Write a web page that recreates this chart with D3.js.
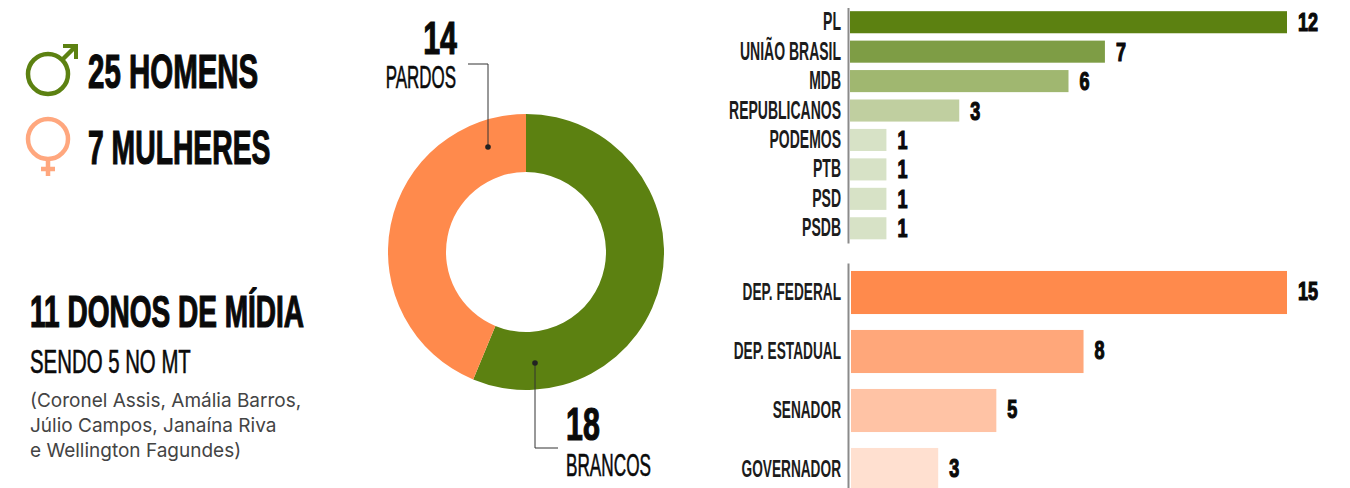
<!DOCTYPE html>
<html lang="en">
<head>
    <meta charset="UTF-8">
    <title>Perfil dos candidatos</title>
    <script src="https://d3js.org/d3.v7.min.js"></script>
    <style>
        body { margin: 0; padding: 0; background: #fff; }
        svg { display: block; }
        text { font-family: "Liberation Sans Narrow", "Liberation Sans", sans-serif; fill: #0a0a0a; }
        .heavy { font-weight: bold; stroke: #0a0a0a; stroke-width: 1.2px; }
        .medium { stroke: #0a0a0a; stroke-width: 0.6px; }
        .label { font-weight: bold; fill: #1c1c1c; }
        .note { font-family: Inter, Roboto, sans-serif; font-size: 19px; fill: #444; }
        .axis path { stroke: #8a8a8a; stroke-width: 2px; }
    </style>
</head>
<body>
<div id="canvasContainer"></div>
<script>

    const genderLabels = ["25 HOMENS", "7 MULHERES"];
    const mediaTitle = "11 DONOS DE MÍDIA";
    const mediaSubtitle = "SENDO 5 NO MT";
    const mediaNames = ["(Coronel Assis, Amália Barros,", "Júlio Campos, Janaína Riva", "e Wellington Fagundes)"];

    const raceNames = ["BRANCOS", "PARDOS"];
    const raceValues = [18, 14];

    const parties = ["PL", "UNIÃO BRASIL", "MDB", "REPUBLICANOS", "PODEMOS", "PTB", "PSD", "PSDB"];
    const partyValues = [12, 7, 6, 3, 1, 1, 1, 1];

    const offices = ["DEP. FEDERAL", "DEP. ESTADUAL", "SENADOR", "GOVERNADOR"];
    const officeValues = [15, 8, 5, 3];

    const green = "#5c8111";
    const orange = "#ff8a4c";
    const partyColors = ["#5c8111", "#7e9d45", "#a0b770", "#c0cfa0", "#d7e2c6", "#d7e2c6", "#d7e2c6", "#d7e2c6"];
    const officeColors = ["#ff8a4c", "#ffa77a", "#ffc3a5", "#ffe0d0"];

    const svg = d3.select("#canvasContainer")
        .append("svg")
        .attr("width", 1350)
        .attr("height", 488);

    // condensed display text, no such font installed so squeeze it
    function label(x, y, str, size, sx, anchor, cls) {
        return svg.append("text")
            .attr("class", cls)
            .attr("transform", `translate(${x},${y}) scale(${sx},1)`)
            .attr("text-anchor", anchor)
            .style("font-size", size + "px")
            .text(str);
    }

    // gender icons
    const male = svg.append("g").attr("fill", "none").attr("stroke", green).attr("stroke-width", 4.5);
    male.append("circle").attr("cx", 48).attr("cy", 74).attr("r", 20);
    male.append("path").attr("d", "M62,60 L75,47");
    male.append("path").attr("d", "M63,46 L76,46 L76,59").attr("stroke-width", 4);

    const female = svg.append("g").attr("fill", "none").attr("stroke", "#ffa77e").attr("stroke-width", 4.5);
    female.append("circle").attr("cx", 48).attr("cy", 139).attr("r", 20);
    female.append("path").attr("d", "M48,159 L48,176 M41,169 L55,169");

    label(88, 88, genderLabels[0], 48, 0.614, "start", "heavy");
    label(88, 164, genderLabels[1], 48, 0.59, "start", "heavy");

    label(30, 327, mediaTitle, 44, 0.637, "start", "heavy");
    label(30, 373, mediaSubtitle, 34, 0.6, "start", "medium");
    mediaNames.forEach((n, i) => {
        svg.append("text").attr("class", "note")
            .attr("x", 30).attr("y", 407 + i * 25).text(n);
    });

    // donut
    const pie = d3.pie().sort(null);
    const arc = d3.arc().innerRadius(80).outerRadius(138);
    svg.append("g")
        .attr("transform", "translate(526,252)")
        .selectAll("path")
        .data(pie(raceValues))
        .enter()
        .append("path")
        .attr("d", arc)
        .attr("fill", (d, i) => i === 0 ? green : orange);

    // leaders
    const leaders = [
        { path: "M468,64 L488,64 L488,147", dot: [488, 147] },
        { path: "M535,363 L535,448 L558,448", dot: [535, 363] }
    ];
    leaders.forEach(l => {
        svg.append("path").attr("d", l.path).attr("fill", "none").attr("stroke", "#333").attr("stroke-width", 1);
        svg.append("circle").attr("cx", l.dot[0]).attr("cy", l.dot[1]).attr("r", 2.8).attr("fill", "#222");
    });

    label(457, 54, raceValues[1], 46, 0.66, "end", "heavy");
    label(456, 88, raceNames[1], 32, 0.53, "end", "medium");
    label(566, 440, raceValues[0], 46, 0.66, "start", "heavy");
    label(566, 476, raceNames[0], 32, 0.537, "start", "medium");

    // bar panels
    function barPanel(cats, vals, colors, opts) {
        const x = d3.scaleLinear().domain([0, opts.max]).range([opts.x0, 1287]);
        const y = d3.scaleBand().domain(cats).range(opts.yRange).paddingInner(opts.pad).paddingOuter(opts.pad / 2);

        const g = svg.append("g");
        g.selectAll("rect")
            .data(vals)
            .enter()
            .append("rect")
            .attr("x", x(0))
            .attr("y", (d, i) => y(cats[i]))
            .attr("width", d => x(d) - x(0))
            .attr("height", y.bandwidth())
            .attr("fill", (d, i) => colors[i]);

        g.selectAll(".value")
            .data(vals)
            .enter()
            .append("text")
            .attr("class", "value heavy")
            .attr("transform", (d, i) => `translate(${x(d) + 11},${y(cats[i]) + y.bandwidth() / 2 + opts.valueDy}) scale(0.72,1)`)
            .style("font-size", "25px")
            .text(d => d);

        const axis = svg.append("g")
            .attr("class", "axis")
            .attr("transform", "translate(848,0)")
            .call(d3.axisLeft(y).tickSize(0));
        axis.selectAll("text")
            .attr("class", "label")
            .attr("x", 0)
            .attr("dy", null)
            .attr("transform", `translate(-7,${opts.labelDy}) scale(${opts.sx},1)`)
            .style("font-size", opts.size + "px");
    }

    barPanel(parties, partyValues, partyColors, { max: 12, x0: 850, yRange: [7.5, 243], pad: 0.25, sx: 0.56, size: 25, valueDy: 9, labelDy: 8 });
    barPanel(offices, officeValues, officeColors, { max: 15, x0: 851, yRange: [263, 499], pad: 0.27, sx: 0.57, size: 24, valueDy: 7, labelDy: 7 });

</script>
</body>
</html>
